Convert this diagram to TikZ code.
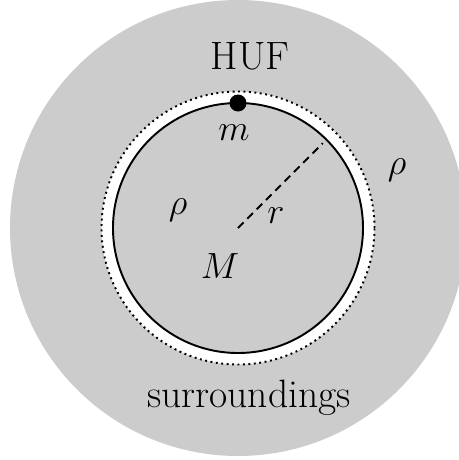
\documentclass[tikz,border=0pt]{standalone}
\usepackage{amsmath,amssymb}

\begin{document}
\begin{tikzpicture}[every node/.style={font=\fontsize{22.5}{27}\selectfont, anchor=base}, ring/.style={line width=1.1pt}]
	\useasboundingbox (-4.76,-4.64) rectangle (4.42,4.56);
	\fill[black!20] (0,0) circle (4.56);
	\fill[white] (0,0) circle (2.73);
	\draw[ring, dotted] (0,0) circle (2.73);
	\fill[black!20] (0,0) circle (2.5);
	\draw[ring] (0,0) circle (2.5);
	\coordinate (center) at (0,0);
	\coordinate (rim) at (45:2.4);
	\draw[ring, dash pattern=on 4.5pt off 3pt] (center) -- (rim);
	\node[circle, fill, inner sep=0pt, minimum size=0.34cm, anchor=center] (mass) at (90:2.5) {};
	\node (huf) at (0.24,3.18) {HUF};
	\node (mlabel) at (-0.08,1.76) {$m$};
	\node (rholeft) at (-1.2,0.28) {$\rho$};
	\node (rhoright) at (3.18,1.08) {$\rho$};
	\node (rlabel) at (0.76,0.1) {$r$};
	\node (Mlabel) at (-0.36,-1.0) {$M$};
	\node (surr) at (0.22,-3.58) {surroundings};
\end{tikzpicture}
\end{document}
